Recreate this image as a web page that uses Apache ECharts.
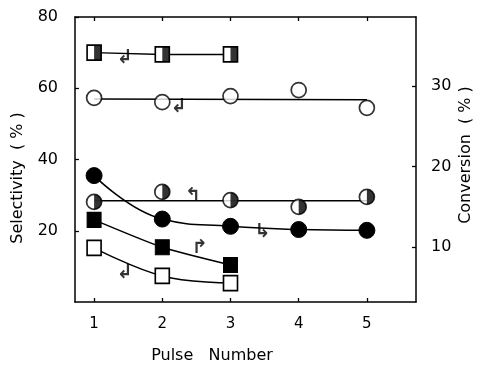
<!DOCTYPE html>
<html>
<head>
<meta charset="utf-8">
<script src="https://cdn.jsdelivr.net/npm/echarts@6/dist/echarts.min.js"></script>
<style>
  html, body { margin: 0; padding: 0; background: #fff; }
  #chart { width: 477px; height: 366px; }
</style>
</head>
<body>
<div id="chart"></div>
<script>
// x values
var pulses = [1, 2, 3, 4, 5];
var pulsesShort = [1, 2, 3];
var xTicks = [1, 2, 3, 4, 5];
var selTicks = [20, 40, 60, 80];
var convTicks = [10, 20, 30];

// selectivity (left axis)
var halfSquareSel = [70, 69.5, 69.5];
var openCircleSel = [57.3, 56.1, 57.8, 59.5, 54.5];
var openCircleFit = [57.0, 56.8];
var halfCircleSel = [28.1, 30.9, 28.6, 26.7, 29.5];
var halfCircleFit = [28.4, 28.4];
var openSquareSel = [15.2, 7.3, 5.3];

// conversion (right axis)
var filledCircleConv = [18.9, 13.5, 12.6, 12.2, 12.1];
var filledSquareConv = [13.4, 10.0, 7.8];

// little arrows telling which axis a curve belongs to
var arrowsLeft = [[1.45, 68.5, "\u21B2"], [2.24, 54.7, "\u21B2"], [2.45, 29.8, "\u21B0"], [1.45, 8.1, "\u21B2"]];
var arrowsRight = [[3.47, 11.9, "\u21B3"], [2.55, 9.9, "\u21B1"]];

var fitX = [1, 5];

function pairs(xs, ys) {
  return ys.map(function (v, i) { return [xs[i], v]; });
}

var FONT = "DejaVu Sans";
var halfDisk = "path://M0,0 A10,10 0 0 1 0,20 Z";
var halfRect = "path://M0,0 L10,0 L10,20 L0,20 Z";

var chart = echarts.init(document.getElementById("chart"));

var lineStyle = { color: "#000", width: 1.5 };
var openItem = { color: "#fff", borderColor: "#000", borderWidth: 1.7 };
var fillItem = { color: "#000", borderColor: "#000", borderWidth: 1 };

var arrowLabel = {
  show: true, position: "inside",
  formatter: function (p) { return p.value[2]; },
  color: "#000", fontSize: 19, fontWeight: "bold", fontFamily: FONT
};

chart.setOption({
  animation: false,
  grid: { left: 75, right: 61, top: 17, bottom: 64 },
  xAxis: [
    {
      type: "value", min: 0.72, max: 5.72, position: "bottom",
      axisLine: { lineStyle: { color: "#000", width: 1.5 } },
      axisTick: { inside: true, length: 4, customValues: xTicks, lineStyle: { color: "#000", width: 1.3 } },
      axisLabel: { customValues: xTicks, margin: 15, color: "#000", fontSize: 15, fontFamily: FONT },
      splitLine: { show: false }
    },
    {
      type: "value", min: 0.72, max: 5.72, position: "top",
      axisLine: { lineStyle: { color: "#000", width: 1.5 } },
      axisTick: { inside: true, length: 4, customValues: xTicks, lineStyle: { color: "#000", width: 1.3 } },
      axisLabel: { show: false },
      splitLine: { show: false }
    }
  ],
  yAxis: [
    {
      type: "value", min: 0, max: 80, position: "left",
      axisLine: { show: true, lineStyle: { color: "#000", width: 1.5 } },
      axisTick: { show: true, inside: true, length: 4, customValues: selTicks, lineStyle: { color: "#000", width: 1.3 } },
      axisLabel: { customValues: selTicks, margin: 17, color: "#000", fontSize: 16, fontFamily: FONT },
      splitLine: { show: false }
    },
    {
      type: "value", min: 3.2, max: 38.6, position: "right",
      axisLine: { show: true, lineStyle: { color: "#000", width: 1.5 } },
      axisTick: { show: true, inside: true, length: 4, customValues: convTicks, lineStyle: { color: "#000", width: 1.3 } },
      axisLabel: { customValues: convTicks, margin: 15, color: "#000", fontSize: 16, fontFamily: FONT },
      splitLine: { show: false }
    }
  ],
  graphic: [
    { type: "text", x: 18, y: 178, rotation: Math.PI / 2,
      style: { text: "Selectivity  ( % )", fill: "#000", font: "16px " + FONT, align: "center", verticalAlign: "middle" } },
    { type: "text", x: 466, y: 155, rotation: Math.PI / 2,
      style: { text: "Conversion  ( % )", fill: "#000", font: "16px " + FONT, align: "center", verticalAlign: "middle" } },
    { type: "text", x: 212, y: 356,
      style: { text: "Pulse   Number", fill: "#000", font: "16px " + FONT, align: "center", verticalAlign: "middle" } }
  ],
  series: [
    // half-filled squares
    { type: "line", yAxisIndex: 0, data: pairs(pulsesShort, halfSquareSel), symbol: "rect", symbolSize: [14, 15],
      lineStyle: lineStyle, itemStyle: openItem, z: 3 },
    { type: "scatter", yAxisIndex: 0, data: pairs(pulsesShort, halfSquareSel), symbol: halfRect, symbolSize: 15,
      symbolKeepAspect: true, symbolOffset: ["25%", 0], itemStyle: { color: "#000" }, z: 4 },

    // open circles with fitted line
    { type: "line", yAxisIndex: 0, data: pairs(fitX, openCircleFit), showSymbol: false, lineStyle: lineStyle, z: 2 },
    { type: "scatter", yAxisIndex: 0, data: pairs(pulses, openCircleSel), symbol: "circle", symbolSize: 15,
      itemStyle: openItem, z: 3 },

    // half-filled circles with fitted line
    { type: "line", yAxisIndex: 0, data: pairs(fitX, halfCircleFit), showSymbol: false, lineStyle: lineStyle, z: 2 },
    { type: "scatter", yAxisIndex: 0, data: pairs(pulses, halfCircleSel), symbol: "circle", symbolSize: 15,
      itemStyle: openItem, z: 3 },
    { type: "scatter", yAxisIndex: 0, data: pairs(pulses, halfCircleSel), symbol: halfDisk, symbolSize: 15,
      symbolKeepAspect: true, symbolOffset: ["25%", 0], itemStyle: { color: "#000" }, z: 4 },

    // filled circles (conversion)
    { type: "line", yAxisIndex: 1, data: pairs(pulses, filledCircleConv), smooth: 0.45, symbol: "circle", symbolSize: 16,
      lineStyle: lineStyle, itemStyle: fillItem, z: 3 },

    // filled squares (conversion)
    { type: "line", yAxisIndex: 1, data: pairs(pulsesShort, filledSquareConv), smooth: 0.2, symbol: "rect", symbolSize: [14, 15],
      lineStyle: lineStyle, itemStyle: fillItem, z: 3 },

    // open squares (selectivity)
    { type: "line", yAxisIndex: 0, data: pairs(pulsesShort, openSquareSel), smooth: 0.4, symbol: "rect", symbolSize: [14, 15],
      lineStyle: lineStyle, itemStyle: openItem, z: 3 },

    // arrows
    { type: "scatter", yAxisIndex: 0, data: arrowsLeft, symbolSize: 0, silent: true, z: 5, label: arrowLabel },
    { type: "scatter", yAxisIndex: 1, data: arrowsRight, symbolSize: 0, silent: true, z: 5, label: arrowLabel }
  ]
});
</script>
</body>
</html>
